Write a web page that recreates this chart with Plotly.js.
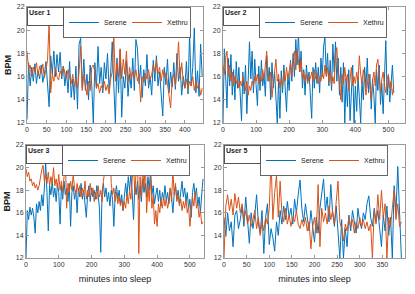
<!DOCTYPE html>
<html>
<head>
<meta charset="utf-8">
<script src="https://cdn.plot.ly/plotly-3.0.1.min.js"></script>
<style>html,body{margin:0;padding:0;background:#fff;}#chart{width:415px;height:294px;}</style>
</head>
<body>
<div id="chart"></div>
<script>
// Sampling interval of the readings (minutes)
const stepMinutes = 4;

// User 1
const user1Serene = [12.3,17.2,15.2,16.8,15.6,17.1,15.4,16.5,15.8,17.0,15.5,16.2,17.3,15.0,13.4,17.8,16.2,18.2,16.0,17.9,16.4,18.1,15.8,16.9,15.2,16.5,14.6,17.3,14.2,15.8,14.0,16.9,13.2,18.8,19.3,15.0,17.5,14.8,16.2,14.0,17.0,15.3,12.0,17.2,15.0,18.6,15.4,16.8,14.6,17.2,15.8,18.0,14.9,16.3,19.0,15.2,12.0,17.6,14.6,18.3,12.5,16.0,15.0,17.4,14.3,16.2,15.0,17.6,14.8,19.2,18.4,15.4,17.0,14.2,16.6,15.2,17.9,15.0,16.0,14.4,17.4,15.6,17.8,15.2,16.4,14.5,12.6,16.8,15.3,17.5,14.6,16.4,15.1,17.2,14.9,18.0,15.6,16.8,14.4,16.0,15.0,17.3,14.5,19.7,15.2,16.8,20.2,14.6,16.5,14.3,18.8,16.0];
const user1Xethru = [18.2,16.6,17.0,16.0,16.8,16.4,17.2,16.1,16.9,16.3,17.1,15.9,16.6,17.4,20.7,14.6,16.2,15.6,16.8,16.0,15.7,16.5,16.1,16.9,16.3,15.8,16.6,16.0,15.4,16.2,15.1,15.9,15.0,16.4,18.6,14.8,16.2,15.2,14.4,15.6,14.8,16.8,17.0,16.4,15.0,15.4,14.6,15.2,14.9,15.6,14.8,15.3,14.5,15.8,16.4,19.4,15.6,17.2,16.0,18.4,15.8,17.5,16.2,18.2,15.5,16.8,15.8,16.4,15.9,16.6,15.6,16.2,13.8,16.0,15.5,16.3,15.8,16.6,15.7,16.2,17.0,16.4,17.4,16.2,16.8,15.6,16.6,15.9,16.3,15.4,14.2,13.3,15.8,16.2,15.2,16.6,19.0,15.8,17.2,15.6,15.0,15.8,14.9,15.6,15.2,16.0,14.8,15.6,15.0,15.4,14.4,15.0];

// User 2
const user2Serene = [12.0,18.4,16.0,13.3,17.6,15.2,17.9,14.4,16.6,14.0,17.3,15.0,16.8,14.2,12.2,16.4,14.5,17.0,12.8,15.6,19.0,15.8,18.2,14.6,17.5,15.3,13.5,16.9,14.8,17.4,15.2,16.2,14.3,17.8,15.6,16.8,14.0,17.2,15.0,16.4,13.8,12.0,15.8,12.4,16.5,14.6,17.0,15.4,13.0,16.2,14.8,17.4,15.6,18.0,16.0,19.2,17.0,19.8,16.4,18.2,15.0,16.6,14.4,17.0,15.6,16.4,14.2,12.4,16.8,15.0,17.2,15.4,16.8,14.6,17.6,16.0,18.6,19.4,16.2,18.0,15.2,17.4,14.8,18.8,16.4,19.0,15.6,17.6,14.4,16.8,13.8,17.2,12.0,15.8,13.4,16.6,12.2,15.4,17.0,12.0,15.2,13.0,16.0,14.2,12.0,15.6,14.0,16.8,15.0,17.6,14.6,16.2,13.2,15.8,14.4,12.0,16.6,14.8,17.0,13.6,15.4,12.8,16.2,19.1,14.4,16.0,13.8,15.6,17.0,14.6];
const user2Xethru = [17.0,16.2,17.6,18.2,16.0,17.0,15.6,16.4,15.2,16.0,15.4,15.8,15.0,15.6,15.2,16.0,15.4,14.8,15.6,14.4,15.2,14.8,15.6,15.2,16.0,15.6,16.2,15.4,16.0,15.6,16.6,15.8,17.0,18.2,16.2,15.6,16.4,14.2,15.4,16.8,17.5,15.6,16.2,15.0,15.8,15.2,16.4,15.6,16.8,15.8,16.6,17.2,16.0,17.6,18.2,16.6,18.3,17.0,16.4,17.4,15.8,16.4,15.6,16.2,15.4,16.0,15.8,16.4,15.6,16.6,15.8,16.2,15.4,16.0,15.6,16.4,15.8,17.0,16.0,16.8,15.6,16.4,15.2,16.0,15.4,17.8,18.5,16.4,15.6,14.0,16.2,15.4,16.8,15.6,16.2,14.8,15.6,16.8,15.2,16.0,15.4,16.4,15.6,17.8,16.2,15.4,16.6,15.8,14.4,15.6,16.2,15.4,14.0,15.6,16.4,15.2,17.0,17.5,15.8,14.6,15.8,16.4,15.2,14.6,15.8,16.2,15.0,15.6,14.4,15.2];

// User 3
const user3Serene = [12.0,16.2,15.4,16.5,15.8,16.4,15.6,14.2,16.8,16.0,17.0,16.2,17.6,16.6,18.2,20.5,17.8,14.4,18.4,17.6,18.8,17.4,18.2,17.0,18.6,17.8,15.0,18.4,17.2,18.8,17.6,18.2,17.0,18.6,14.8,17.8,18.4,17.2,18.0,16.0,18.2,17.4,18.6,17.2,18.0,16.8,15.6,17.6,18.4,17.0,18.2,17.4,18.0,17.2,18.4,17.6,16.4,12.5,17.8,18.6,17.4,18.2,17.0,17.8,16.6,18.0,17.2,14.8,17.6,18.4,17.2,18.0,16.8,17.6,16.2,17.4,18.6,17.4,19.2,18.0,19.5,17.8,15.4,18.4,17.6,18.8,17.2,18.4,17.0,19.0,17.8,18.6,17.4,19.2,18.0,19.8,17.6,18.4,16.8,17.6,18.2,17.0,18.0,16.6,17.8,17.2,18.4,17.0,17.8,16.8,18.2,17.4,16.0,17.6,18.4,17.2,18.0,16.8,17.6,18.8,17.4,18.2,17.0,17.8,16.4,17.2,15.6,17.8,18.6,17.4,18.2,16.6,17.4,16.0,17.6,19.0];
const user3Xethru = [19.9,19.2,19.6,18.8,19.0,18.4,18.7,18.2,18.5,18.0,18.4,19.2,19.8,20.2,18.8,19.4,18.6,19.6,18.4,19.2,18.6,20.0,18.4,19.0,18.2,19.4,18.0,18.8,17.8,19.2,20.8,16.4,18.6,17.8,18.8,18.0,19.4,18.2,17.6,18.6,17.8,18.4,17.4,18.2,17.6,18.8,17.2,18.0,17.4,18.6,17.6,18.2,17.0,17.8,17.2,18.4,17.4,18.0,17.0,18.8,19.6,21.0,22.0,19.4,22.0,18.6,17.6,18.2,17.0,17.8,16.8,17.4,16.6,17.2,16.2,17.0,16.4,17.6,16.8,18.0,17.2,19.0,20.4,17.6,19.6,22.0,12.4,19.2,17.4,20.0,18.2,20.6,16.0,18.4,17.0,19.2,16.4,17.6,15.0,16.2,14.8,16.8,16.0,17.2,16.4,17.4,16.6,17.2,16.4,17.0,18.2,17.0,19.8,17.6,18.6,17.0,17.6,16.6,17.2,16.2,17.0,16.4,17.2,16.0,16.6,14.8,16.2,17.4,16.6,17.8,16.4,16.8,15.6,16.2,15.0,15.2];

// User 5
const user5Serene = [15.6,13.9,16.0,14.4,15.2,13.0,15.8,16.2,14.6,15.4,16.6,14.8,17.4,15.2,13.3,16.0,14.6,15.8,17.6,15.0,14.2,16.2,12.4,15.6,16.8,13.2,14.6,13.8,12.6,15.2,14.0,16.2,15.0,16.6,15.4,17.0,15.6,16.4,15.0,17.2,16.0,17.6,18.9,16.4,15.2,16.8,15.6,14.4,16.2,14.8,13.4,15.6,14.2,16.4,17.6,19.0,16.2,17.4,15.2,18.5,16.0,14.8,16.6,14.0,12.0,15.4,12.0,14.6,13.0,15.8,14.4,16.2,15.0,14.2,16.4,15.2,14.6,16.0,15.4,16.8,17.5,15.6,14.8,16.4,15.2,16.2,14.6,13.0,15.8,14.4,16.6,14.0,15.6,12.0,18.4,16.0,20.1,15.4,12.0];
const user5Xethru = [12.0,16.6,17.6,16.2,17.2,15.8,17.7,16.4,17.4,16.0,16.8,15.4,16.2,15.0,15.8,14.8,15.4,16.2,14.6,15.6,14.0,15.2,14.4,15.6,15.0,16.4,20.7,15.4,17.8,19.3,15.6,18.8,16.0,15.2,16.4,15.0,15.8,14.8,15.6,15.2,16.2,15.0,14.6,15.4,14.8,15.6,14.4,15.2,12.8,14.8,15.6,14.2,18.5,13.0,16.4,15.2,16.0,15.0,16.6,15.4,16.2,15.0,17.0,18.8,15.2,14.6,13.5,15.0,14.4,15.6,14.8,15.4,14.2,15.2,14.6,15.6,14.8,15.4,14.6,15.2,14.4,15.0,12.0,16.2,15.0,17.6,15.4,18.0,15.6,16.8,12.0,15.6,14.8,16.6,18.0,15.4,16.8,14.8,15.2];

const seriesNames = ['Serene', 'Xethru'];
const userLabels = ['User 1', 'User 2', 'User 3', 'User 5'];
const yTicks = [12, 14, 16, 18, 20, 22];
const xTicks1 = [0, 50, 100, 150, 200, 250, 300, 350, 400];
const xTicks2 = [0, 100, 200, 300, 400, 500];
const xTicks3 = [0, 100, 200, 300, 400, 500];
const xTicks5 = [0, 50, 100, 150, 200, 250, 300, 350];
const xRanges = [[0, 446], [0, 550], [0, 543], [0, 400]];

const blue = '#0072BD';
const orange = '#D95319';

const minutesFor = arr => arr.map((_, i) => i * stepMinutes);

const panels = [
  {s: user1Serene, x: user1Xethru, ticks: xTicks1},
  {s: user2Serene, x: user2Xethru, ticks: xTicks2},
  {s: user3Serene, x: user3Xethru, ticks: xTicks3},
  {s: user5Serene, x: user5Xethru, ticks: xTicks5}
];

const traces = [];
panels.forEach((p, i) => {
  const n = i === 0 ? '' : String(i + 1);
  const leg = 'legend' + n;
  traces.push({x: minutesFor(p.s), y: p.s, type: 'scatter', mode: 'lines', name: seriesNames[0],
    line: {color: blue, width: 1}, xaxis: 'x' + n, yaxis: 'y' + n, legend: leg});
  traces.push({x: minutesFor(p.x), y: p.x, type: 'scatter', mode: 'lines', name: seriesNames[1],
    line: {color: orange, width: 1}, xaxis: 'x' + n, yaxis: 'y' + n, legend: leg});
});

const W = 415, H = 294;
const xDomains = [[27, 203], [223, 405], [26, 204], [224, 405]];
const yDomains = [[7, 123], [7, 123], [145, 258], [145, 258]];

const axisCommon = {
  showline: true, linecolor: '#9a9a9a', linewidth: 1, mirror: 'ticks',
  ticks: 'inside', ticklen: 3, tickcolor: '#9a9a9a', tickwidth: 1,
  showgrid: false, zeroline: false, automargin: false,
  tickfont: {family: 'Liberation Sans, Arial, sans-serif', size: 7, color: '#333'}
};

const layout = {
  width: W, height: H,
  margin: {l: 0, r: 0, t: 0, b: 0, autoexpand: false},
  paper_bgcolor: '#fff', plot_bgcolor: '#fff',
  showlegend: true,
  annotations: [],
  font: {family: 'Liberation Sans, Arial, sans-serif', color: '#222'}
};

panels.forEach((p, i) => {
  const n = i === 0 ? '' : String(i + 1);
  const xd = xDomains[i], yd = yDomains[i];
  const xa = Object.assign({}, axisCommon, {
    domain: [xd[0] / W, xd[1] / W], range: xRanges[i], anchor: 'y' + n,
    tickvals: p.ticks, ticktext: p.ticks.map(String)
  });
  const ya = Object.assign({}, axisCommon, {
    domain: [1 - yd[1] / H, 1 - yd[0] / H], range: [12, 22], anchor: 'x' + n,
    tickvals: yTicks, ticktext: yTicks.map(String)
  });
  if (i === 0 || i === 2) {
    ya.title = {text: '<b>BPM</b>', font: {size: 9, color: '#222'}, standoff: 3};
  }
  if (i >= 2) {
    xa.title = {text: 'minutes into sleep', font: {size: 9, color: '#222'}, standoff: 8};
  }
  layout['xaxis' + n] = xa;
  layout['yaxis' + n] = ya;

  layout['legend' + n] = {
    x: (xd[0] + 36) / W, y: 1 - (yd[0]) / H, xanchor: 'left', yanchor: 'top',
    orientation: 'h', bgcolor: '#fff', bordercolor: '#666', borderwidth: 1,
    font: {size: 7, color: '#222'}, itemwidth: 30, entrywidth: 18,
    traceorder: 'normal', tracegroupgap: 0
  };

  layout.annotations.push({
    xref: 'paper', yref: 'paper', x: xd[0] / W, y: 1 - yd[0] / H,
    xanchor: 'left', yanchor: 'top', showarrow: false,
    text: '<b>' + userLabels[i] + '</b>', align: 'left', valign: 'top',
    width: 33, height: 15, borderpad: 1, bordercolor: '#555', borderwidth: 1,
    bgcolor: '#fff', font: {size: 7, color: '#222'}
  });
});

Plotly.newPlot('chart', traces, layout, {displayModeBar: false, staticPlot: true});
</script>
</body>
</html>
